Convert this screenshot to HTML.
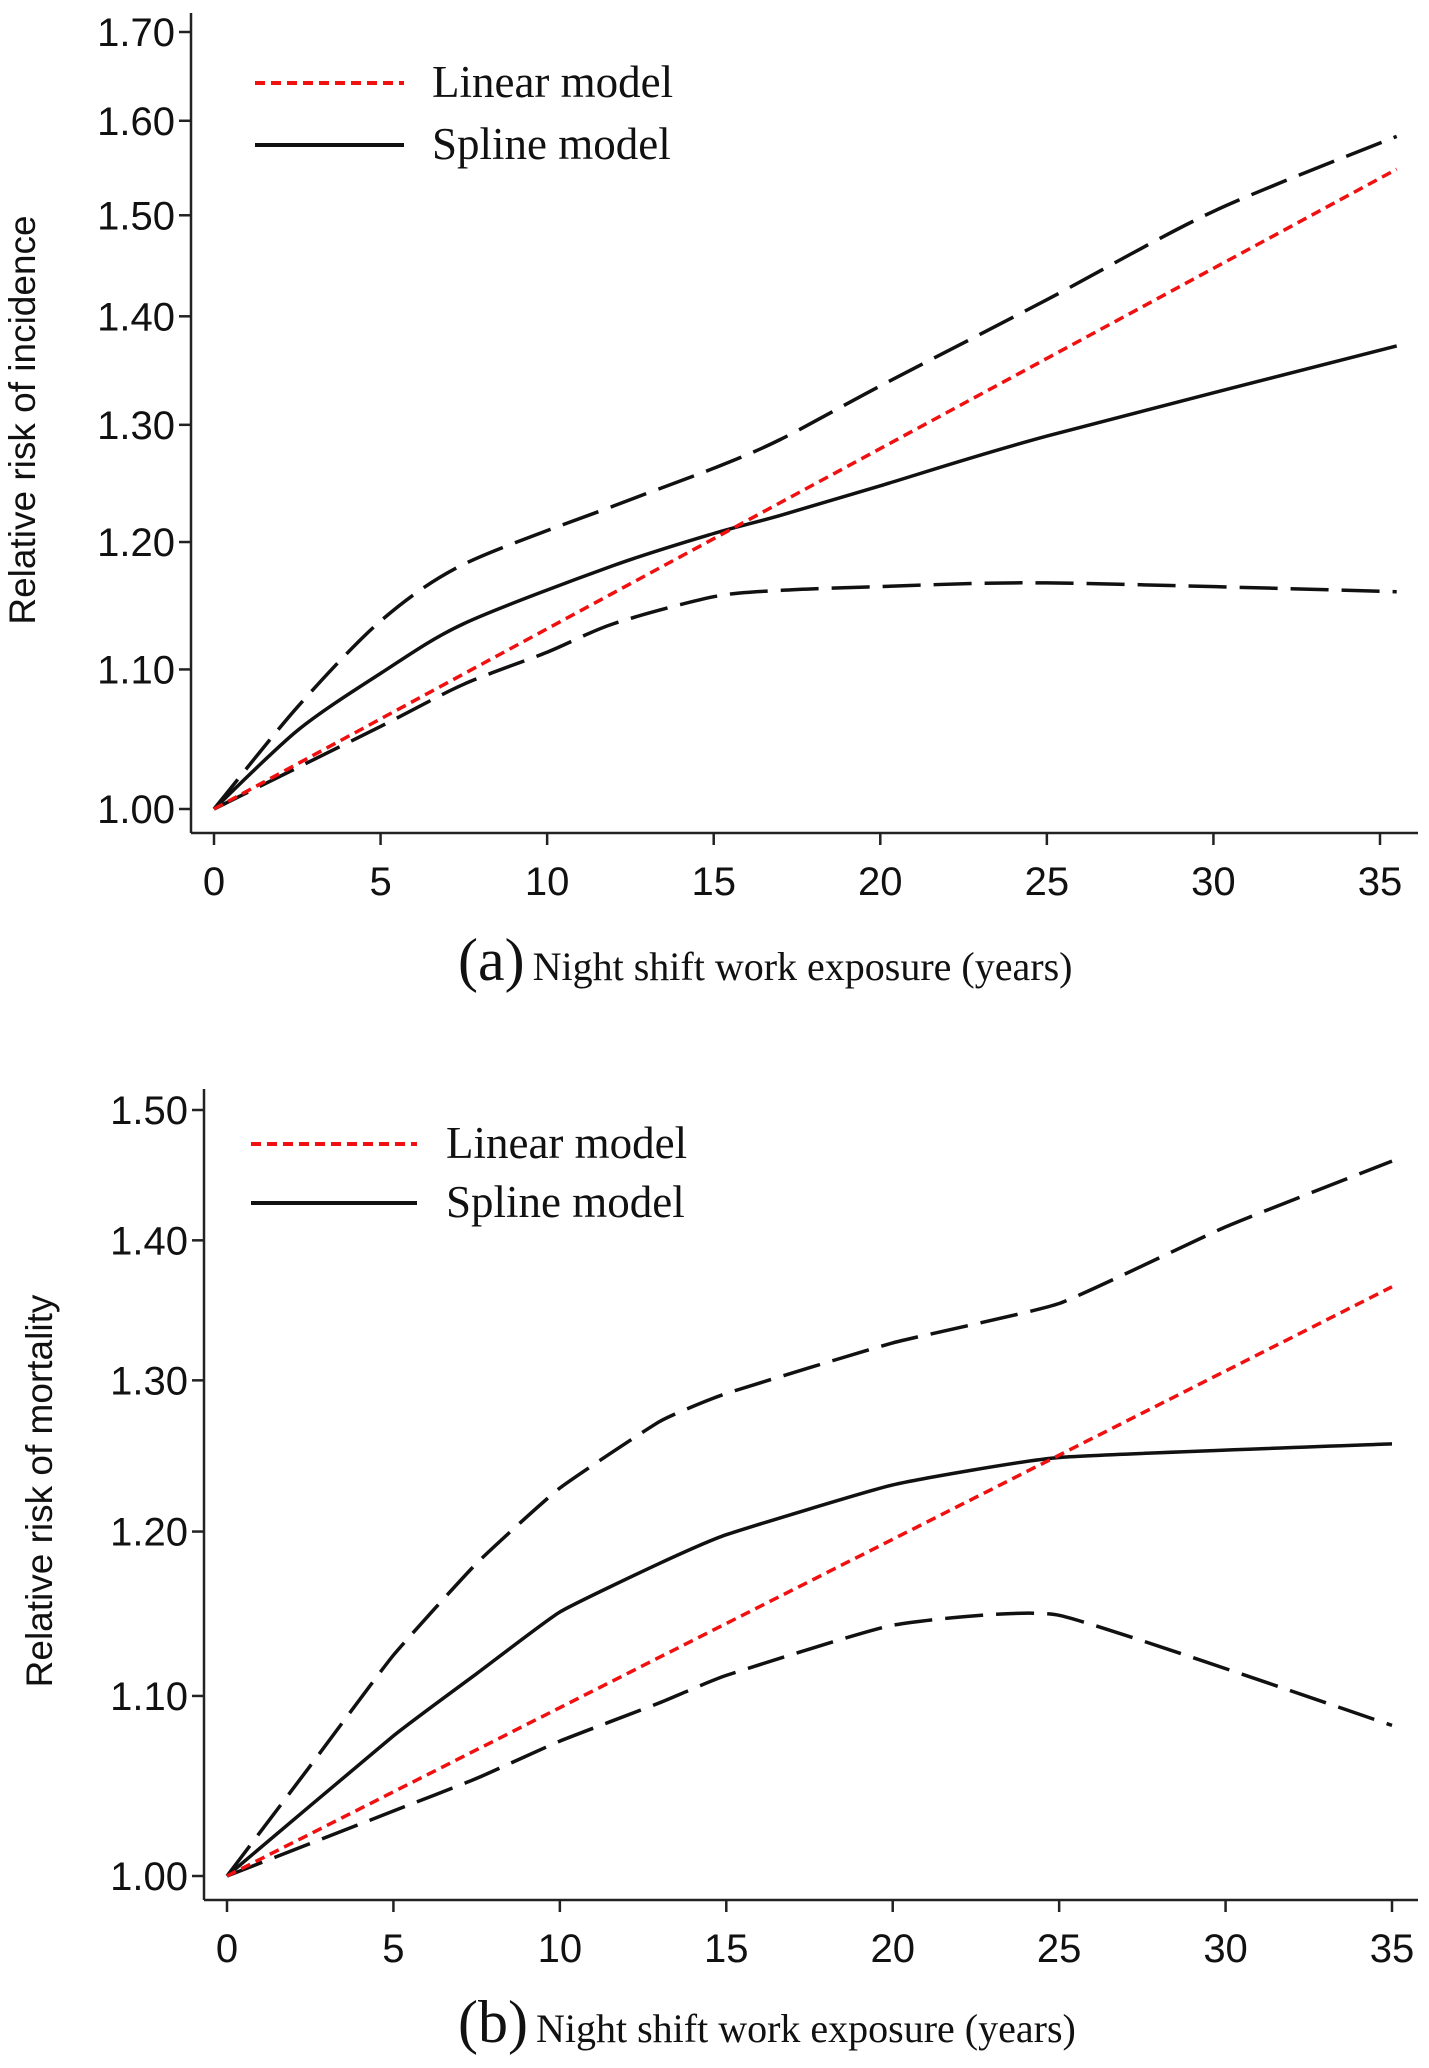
<!DOCTYPE html>
<html><head><meta charset="utf-8">
<style>
html,body{margin:0;padding:0;background:#fff;}
svg{display:block;}
.tick{font-family:"Liberation Sans",sans-serif;font-size:40px;fill:#111;}
.leg{font-family:"Liberation Serif",serif;font-size:45px;fill:#111;}
.cap{font-family:"Liberation Serif",serif;font-size:40px;fill:#111;}
.capl{font-family:"Liberation Serif",serif;font-size:60px;fill:#111;}
.ytitle{font-family:"Liberation Sans",sans-serif;font-size:37px;fill:#111;}
</style></head>
<body>
<svg id="chart" width="1429" height="2068" viewBox="0 0 1429 2068" xmlns="http://www.w3.org/2000/svg"></svg>
<script>
// ----- Panel A data (incidence) -----
const aXTicks = [0,5,10,15,20,25,30,35];
const aYTicks = [1.00,1.10,1.20,1.30,1.40,1.50,1.60,1.70];
const aLinearX = [0,35.5];
const aLinearY = [1.00,1.548];
const aSplineX = [0,2.5,5,7.5,12,15,17,20,25,35.5];
const aSplineY = [1.00,1.055,1.097,1.135,1.181,1.207,1.222,1.247,1.29,1.372];
const aUpperX = [0,2.5,5,7.5,12,15,17,20,25,30,35.5];
const aUpperY = [1.00,1.072,1.137,1.182,1.23,1.262,1.287,1.335,1.416,1.504,1.583];
const aLowerX = [0,5,7.5,10,12,15,17,20,25,35.5];
const aLowerY = [1.00,1.058,1.089,1.113,1.135,1.156,1.161,1.164,1.167,1.16];
// ----- Panel B data (mortality) -----
const bXTicks = [0,5,10,15,20,25,30,35];
const bYTicks = [1.00,1.10,1.20,1.30,1.40,1.50];
const bLinearX = [0,35];
const bLinearY = [1.00,1.366];
const bSplineX = [0,5,7.5,10,13,15,20,25,35];
const bSplineY = [1.00,1.077,1.113,1.15,1.18,1.198,1.23,1.248,1.257];
const bUpperX = [0,2.5,5,7.5,10,13,15,20,25,30,35];
const bUpperY = [1.00,1.06,1.124,1.18,1.228,1.272,1.291,1.326,1.354,1.41,1.46];
const bLowerX = [0,5,7.5,10,13,15,20,25,35];
const bLowerY = [1.00,1.035,1.053,1.074,1.096,1.112,1.142,1.148,1.083];

const NS='http://www.w3.org/2000/svg';
const svg=document.getElementById('chart');
function mk(tag,attrs,parent){const e=document.createElementNS(NS,tag);for(const k in attrs)e.setAttribute(k,attrs[k]);(parent||svg).appendChild(e);return e;}

function smoothPath(pts,ten){
  if(pts.length<3) return pts.map((p,i)=>(i?'L':'M')+p[0].toFixed(1)+','+p[1].toFixed(1)).join(' ');
  let d='M'+pts[0][0].toFixed(1)+','+pts[0][1].toFixed(1);
  for(let i=0;i<pts.length-1;i++){
    const p0=pts[Math.max(0,i-1)],p1=pts[i],p2=pts[i+1],p3=pts[Math.min(pts.length-1,i+2)];
    const t=ten;
    const c1=[p1[0]+(p2[0]-p0[0])*t,p1[1]+(p2[1]-p0[1])*t];
    const c2=[p2[0]-(p3[0]-p1[0])*t,p2[1]-(p3[1]-p1[1])*t];
    d+=' C'+c1[0].toFixed(1)+','+c1[1].toFixed(1)+' '+c2[0].toFixed(1)+','+c2[1].toFixed(1)+' '+p2[0].toFixed(1)+','+p2[1].toFixed(1);
  }
  return d;
}

function panel(cfg){
  const g=mk('g',{});
  
  
  const xS=v=>cfg.x0+(cfg.x35-cfg.x0)*v/35;
  const yS=v=>cfg.y1-(cfg.y1-cfg.yTop)*Math.log(v)/Math.log(cfg.vTop);
  const ya=mk('line',{x1:cfg.ax,y1:cfg.axTop,x2:cfg.ax,y2:cfg.axY,stroke:'#222','stroke-width':2.5},g);
  
  
  const xa=mk('line',{x1:cfg.ax,y1:cfg.axY,x2:1418,y2:cfg.axY,stroke:'#222','stroke-width':2.5},g);
  
  
  cfg.yt.forEach(v=>{
    const y=yS(v);
    mk('line',{x1:cfg.ax-12,y1:y,x2:cfg.ax,y2:y,stroke:'#222','stroke-width':2.5},g);
    const t=mk('text',{x:cfg.ax-16,y:y+14,'text-anchor':'end',class:'tick'},g);
    t.textContent=v.toFixed(2);
    
    
  });
  cfg.xt.forEach(v=>{
    const x=xS(v);
    mk('line',{x1:x,y1:cfg.axY,x2:x,y2:cfg.axY+12,stroke:'#222','stroke-width':2.5},g);
    const t=mk('text',{x:x,y:cfg.axY+62,'text-anchor':'middle',class:'tick'},g);
    t.textContent=String(v);
    
    
  });
  function line(xs,ys,style,name){
    const pts=xs.map((x,i)=>[xS(x),yS(ys[i])]);
    const p=mk('path',Object.assign({d:smoothPath(pts,cfg.ten),fill:'none','stroke-linejoin':'round'},style),g);
    
    
  }
  const dashCI={stroke:'#111','stroke-width':3.5,'stroke-dasharray':'38 13'};
  line(cfg.up[0],cfg.up[1],dashCI,'upper-ci-line');
  line(cfg.lo[0],cfg.lo[1],dashCI,'lower-ci-line');
  line(cfg.sp[0],cfg.sp[1],{stroke:'#111','stroke-width':3.5},'spline-model-line');
  line(cfg.li[0],cfg.li[1],{stroke:'#f01010','stroke-width':3.5,'stroke-dasharray':'10 6'},'linear-model-line');
  const l1=mk('line',{x1:cfg.legX1,y1:cfg.legY1,x2:cfg.legX2,y2:cfg.legY1,stroke:'#f01010','stroke-width':4,'stroke-dasharray':'10 6'},g);
  
  
  const t1=mk('text',{x:cfg.legT,y:cfg.legY1+14,class:'leg'},g);
  t1.textContent='Linear model';
  
  
  const l2=mk('line',{x1:cfg.legX1,y1:cfg.legY2,x2:cfg.legX2,y2:cfg.legY2,stroke:'#111','stroke-width':4},g);
  
  
  const t2=mk('text',{x:cfg.legT,y:cfg.legY2+14,class:'leg'},g);
  t2.textContent='Spline model';
  
  
  const yt=mk('text',{x:0,y:0,'text-anchor':'middle',class:'ytitle',transform:'translate('+cfg.ytX+','+cfg.ytY+') rotate(-90)'},g);
  yt.textContent=cfg.ytitle;
  
  
  const c=mk('text',{x:cfg.capX,y:cfg.capY,class:'cap'},g);
  
  
  const s1=mk('tspan',{class:'capl'},c);s1.textContent='('+cfg.letter+')';
  const s2=mk('tspan',{dx:8},c);s2.textContent='Night shift work exposure (years)';
}

panel({name:'panel-a-incidence',x0:214,x35:1380,y1:809,yTop:32,vTop:1.70,ax:191,axTop:13,axY:833,ten:0.14,
  xt:aXTicks,yt:aYTicks,li:[aLinearX,aLinearY],sp:[aSplineX,aSplineY],up:[aUpperX,aUpperY],lo:[aLowerX,aLowerY],
  legX1:255,legX2:404,legY1:83,legY2:145,legT:432,ytX:35,ytY:420,ytitle:'Relative risk of incidence',
  capX:458,capY:980,letter:'a'});
panel({name:'panel-b-mortality',x0:227,x35:1392,y1:1876,yTop:1110,vTop:1.50,ax:204,axTop:1089,axY:1900,ten:0.07,
  xt:bXTicks,yt:bYTicks,li:[bLinearX,bLinearY],sp:[bSplineX,bSplineY],up:[bUpperX,bUpperY],lo:[bLowerX,bLowerY],
  legX1:251,legX2:417,legY1:1144,legY2:1203,legT:446,ytX:52,ytY:1491,ytitle:'Relative risk of mortality',
  capX:458,capY:2042,letter:'b'});
</script>
</body></html>
